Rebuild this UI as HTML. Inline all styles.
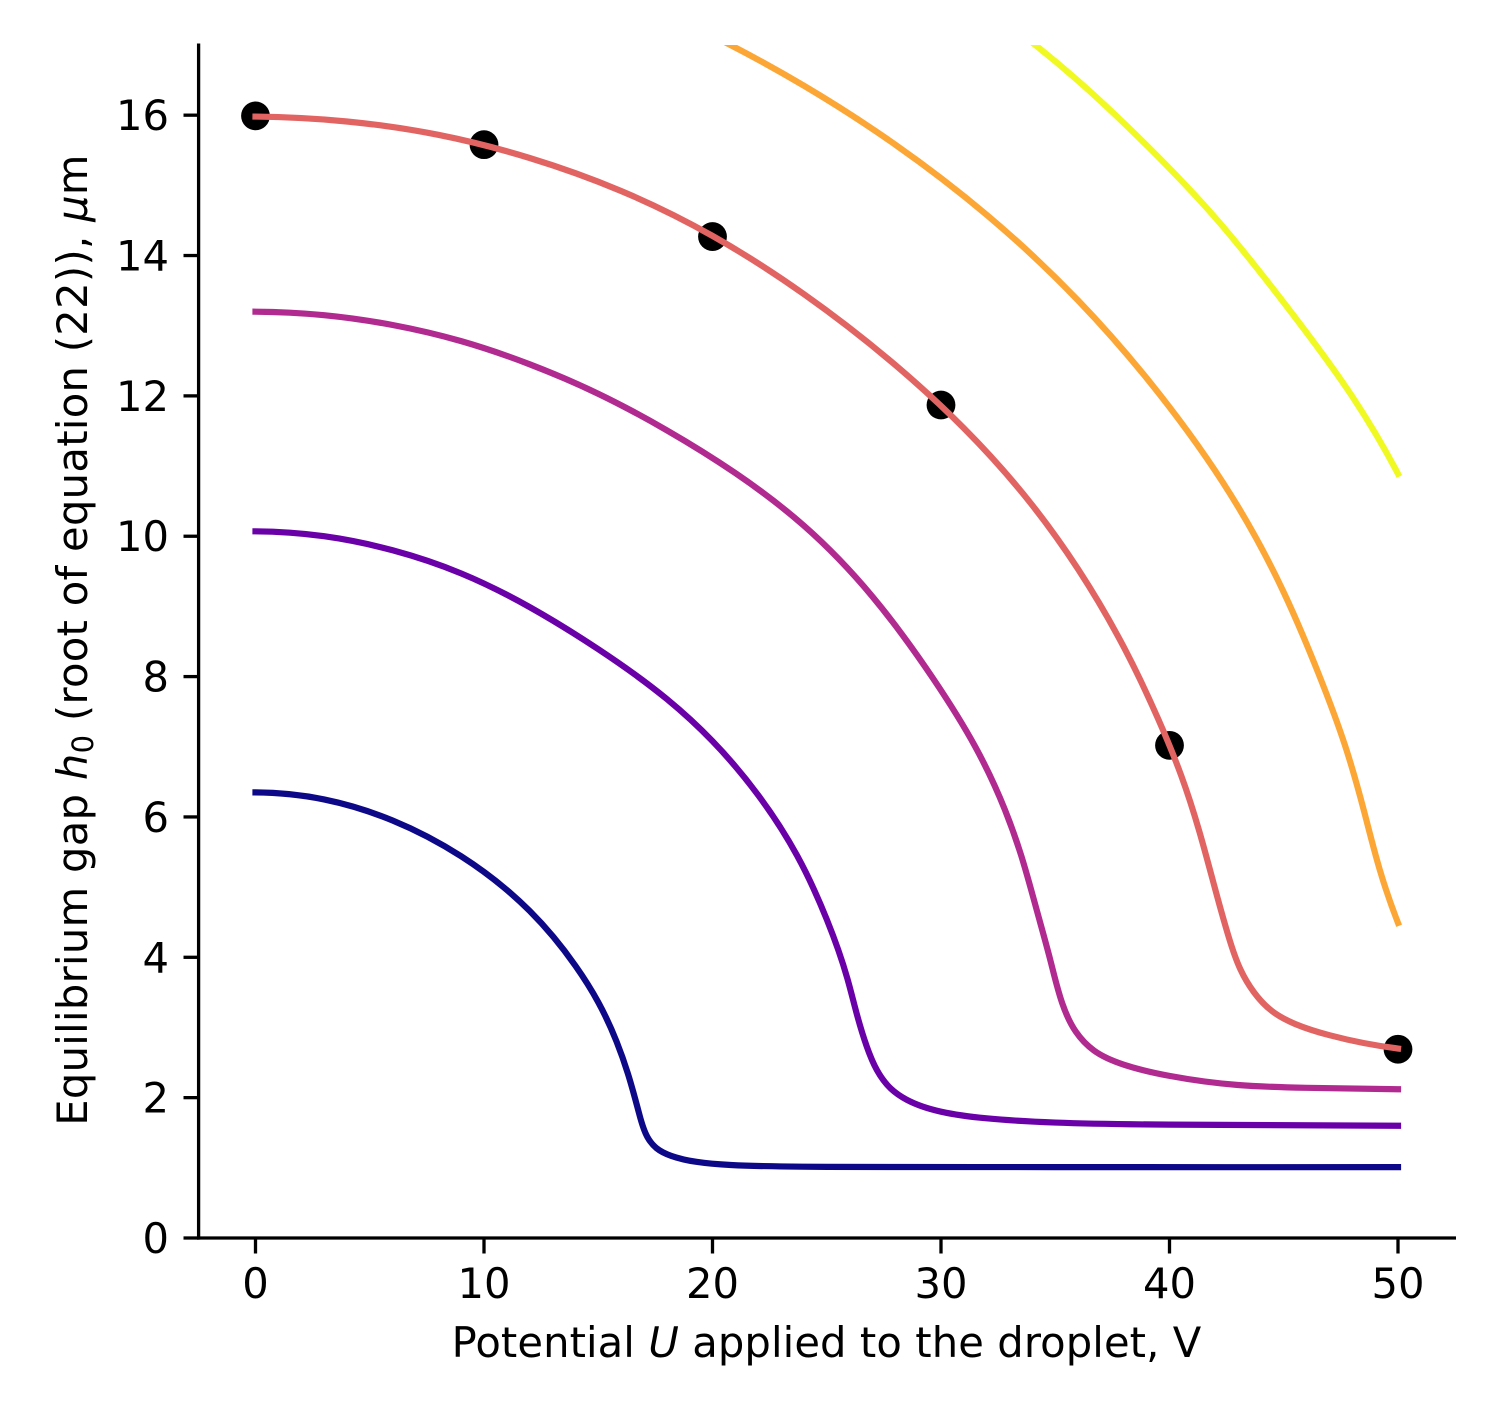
<!DOCTYPE html>
<html lang="en">
<head>
<meta charset="utf-8">
<title>Equilibrium gap vs potential</title>
<style>
html,body{margin:0;padding:0;background:#fff}
svg{display:block}
text{font-family:"DejaVu Sans","Liberation Sans",sans-serif;fill:#000}
</style>
</head>
<body>
<svg id="chart" xmlns="http://www.w3.org/2000/svg" width="1500" height="1425" viewBox="0 0 1500 1425">
  <defs><clipPath id="plot-clip"><rect x="198.5" y="45" width="1258" height="1193"></rect></clipPath></defs>
  <rect x="0" y="0" width="1500" height="1425" fill="#ffffff"></rect>
  <g id="markers" clip-path="url(#plot-clip)"></g>
  <g id="lines" clip-path="url(#plot-clip)"></g>
  <g id="x-ticks"></g>
  <g id="y-ticks"></g>
  <line x1="198.6" y1="43.5" x2="198.6" y2="1239.6" stroke="#000" stroke-width="3.3"></line>
  <line x1="197" y1="1238" x2="1456" y2="1238" stroke="#000" stroke-width="3.3"></line>
  <text x="826.5" y="1357" font-size="41.67" letter-spacing="0.1" text-anchor="middle">Potential <tspan font-style="italic">U</tspan> applied to the droplet, V</text>
  <text transform="translate(87,640) rotate(-90)" font-size="41.67" letter-spacing="0.3" text-anchor="middle">Equilibrium gap <tspan font-style="italic">h</tspan><tspan font-size="29" dy="6">0</tspan><tspan dy="-6"> (root of equation (22)), </tspan><tspan font-style="italic">μ</tspan><tspan>m</tspan></text>
</svg>
<script>
const xTickValues = [0, 10, 20, 30, 40, 50];
const yTickValues = [0, 2, 4, 6, 8, 10, 12, 14, 16];

const markerU = [0, 10, 20, 30, 40, 50];
const markerH = [15.99, 15.58, 14.27, 11.87, 7.02, 2.69];

const blueU = [0, 3, 6, 9, 12, 14, 15, 15.8, 16.3, 16.8, 17.15, 17.55, 18.2, 19.3, 20.8, 23, 25, 28, 35, 50];
const blueH = [6.35, 6.25, 5.95, 5.44, 4.66, 3.88, 3.36, 2.8, 2.34, 1.76, 1.44, 1.28, 1.17, 1.085, 1.04, 1.02, 1.014, 1.012, 1.01, 1.01];

const purpleU = [0, 3, 6, 9, 12, 15, 18, 20, 22, 23.7, 25, 25.9, 26.35, 26.75, 27.2, 27.8, 28.5, 30, 32, 35, 40, 50];
const purpleH = [10.07, 10.0, 9.8, 9.47, 8.99, 8.39, 7.68, 7.08, 6.31, 5.45, 4.54, 3.7, 3.15, 2.73, 2.39, 2.13, 1.97, 1.8, 1.705, 1.645, 1.615, 1.6];

const magentaU = [0, 3, 6, 9, 12, 15, 18, 21, 24, 27, 29.66, 31.5, 32.8, 33.5, 34.2, 34.8, 35.3, 35.9, 36.7, 38, 40, 43, 46, 50];
const magentaH = [13.2, 13.15, 13.01, 12.78, 12.45, 12.03, 11.51, 10.9, 10.15, 9.14, 7.97, 7.0, 6.1, 5.46, 4.66, 3.94, 3.35, 2.94, 2.67, 2.47, 2.31, 2.18, 2.14, 2.12];

const salmonU = [0, 4, 8, 12, 16, 20, 24, 28, 31, 34, 36, 38, 39.5, 40.5, 41.3, 42, 42.6, 43.1, 43.7, 44.5, 45.5, 47, 50];
const salmonH = [15.98, 15.91, 15.72, 15.39, 14.92, 14.28, 13.45, 12.44, 11.54, 10.44, 9.53, 8.42, 7.4, 6.6, 5.8, 4.97, 4.28, 3.83, 3.5, 3.23, 3.05, 2.89, 2.7];

const orangeU = [20, 24, 28, 32, 36, 40, 43, 45, 46.5, 47.7, 48.5, 49.2, 50];
const orangeH = [17.13, 16.42, 15.58, 14.58, 13.36, 11.84, 10.42, 9.2, 8.06, 7.0, 6.1, 5.25, 4.49];

const yellowU = [33.5, 36, 39, 42, 45, 48, 50];
const yellowH = [17.16, 16.49, 15.57, 14.54, 13.33, 11.99, 10.89];

const SVG_NS = 'http://www.w3.org/2000/svg';
function xScale(u) { return 255.5 + 22.85 * u; }
function yScale(h) { return 1238 - (1193 / 17) * h; }

function splineMoments(t, v) {
  const n = v.length;
  const a = new Array(n).fill(0), b = new Array(n).fill(0), c = new Array(n).fill(0), r = new Array(n).fill(0);
  b[0] = 1; c[0] = -1; b[n - 1] = 1; a[n - 1] = -1;
  for (let i = 1; i < n - 1; i++) {
    const h0 = t[i] - t[i - 1], h1 = t[i + 1] - t[i];
    a[i] = h0 / 6;
    b[i] = (h0 + h1) / 3;
    c[i] = h1 / 6;
    r[i] = (v[i + 1] - v[i]) / h1 - (v[i] - v[i - 1]) / h0;
  }
  for (let i = 1; i < n; i++) {
    const w = a[i] / b[i - 1];
    b[i] -= w * c[i - 1];
    r[i] -= w * r[i - 1];
  }
  const m = new Array(n).fill(0);
  m[n - 1] = r[n - 1] / b[n - 1];
  for (let i = n - 2; i >= 0; i--) m[i] = (r[i] - c[i] * m[i + 1]) / b[i];
  return m;
}

function smoothPath(us, hs) {
  const xs = us.map(xScale);
  const ys = hs.map(yScale);
  const t = [0];
  for (let i = 1; i < xs.length; i++) t.push(t[i - 1] + Math.hypot(xs[i] - xs[i - 1], ys[i] - ys[i - 1]));
  const mx = splineMoments(t, xs);
  const my = splineMoments(t, ys);
  let s = 'M' + xs[0].toFixed(2) + ' ' + ys[0].toFixed(2);
  for (let i = 0; i < xs.length - 1; i++) {
    const d = t[i + 1] - t[i];
    const c1x = xs[i] + d * ((xs[i + 1] - xs[i]) / d - d * (2 * mx[i] + mx[i + 1]) / 6) / 3;
    const c1y = ys[i] + d * ((ys[i + 1] - ys[i]) / d - d * (2 * my[i] + my[i + 1]) / 6) / 3;
    const c2x = xs[i + 1] - d * ((xs[i + 1] - xs[i]) / d + d * (mx[i] + 2 * mx[i + 1]) / 6) / 3;
    const c2y = ys[i + 1] - d * ((ys[i + 1] - ys[i]) / d + d * (my[i] + 2 * my[i + 1]) / 6) / 3;
    s += 'C' + c1x.toFixed(2) + ' ' + c1y.toFixed(2) + ' ' + c2x.toFixed(2) + ' ' + c2y.toFixed(2) + ' ' + xs[i + 1].toFixed(2) + ' ' + ys[i + 1].toFixed(2);
  }
  return s;
}

const linesGroup = document.getElementById('lines');
function drawCurve(name, us, hs, color) {
  const path = document.createElementNS(SVG_NS, 'path');
  
  
  path.setAttribute('d', smoothPath(us, hs));
  path.setAttribute('fill', 'none');
  path.setAttribute('stroke', color);
  path.setAttribute('stroke-width', '6.2');
  path.setAttribute('stroke-linecap', 'square');
  path.setAttribute('stroke-linejoin', 'round');
  linesGroup.appendChild(path);
}
drawCurve('curve-blue', blueU, blueH, '#0d0887');
drawCurve('curve-purple', purpleU, purpleH, '#6a00a8');
drawCurve('curve-magenta', magentaU, magentaH, '#b12a90');
drawCurve('curve-salmon', salmonU, salmonH, '#e16462');
drawCurve('curve-orange', orangeU, orangeH, '#fca636');
drawCurve('curve-yellow', yellowU, yellowH, '#f0f921');

const markersGroup = document.getElementById('markers');
markerU.forEach(function (u, i) {
  const c = document.createElementNS(SVG_NS, 'circle');
  
  
  c.setAttribute('cx', xScale(u));
  c.setAttribute('cy', yScale(markerH[i]));
  c.setAttribute('r', '14.4');
  c.setAttribute('fill', '#000');
  markersGroup.appendChild(c);
});

const xTicksGroup = document.getElementById('x-ticks');
xTickValues.forEach(function (v) {
  const tick = document.createElementNS(SVG_NS, 'line');
  
  
  tick.setAttribute('x1', xScale(v));
  tick.setAttribute('x2', xScale(v));
  tick.setAttribute('y1', '1238');
  tick.setAttribute('y2', '1253.5');
  tick.setAttribute('stroke', '#000');
  tick.setAttribute('stroke-width', '3.3');
  xTicksGroup.appendChild(tick);
  const label = document.createElementNS(SVG_NS, 'text');
  
  
  label.setAttribute('x', xScale(v));
  label.setAttribute('y', '1298');
  label.setAttribute('font-size', '41.67');
  label.setAttribute('text-anchor', 'middle');
  label.textContent = String(v);
  xTicksGroup.appendChild(label);
});

const yTicksGroup = document.getElementById('y-ticks');
yTickValues.forEach(function (v) {
  const tick = document.createElementNS(SVG_NS, 'line');
  
  
  tick.setAttribute('x1', '183.5');
  tick.setAttribute('x2', '198.6');
  tick.setAttribute('y1', yScale(v));
  tick.setAttribute('y2', yScale(v));
  tick.setAttribute('stroke', '#000');
  tick.setAttribute('stroke-width', '3.3');
  yTicksGroup.appendChild(tick);
  const label = document.createElementNS(SVG_NS, 'text');
  
  
  label.setAttribute('x', '169');
  label.setAttribute('y', yScale(v) + 15);
  label.setAttribute('font-size', '41.67');
  label.setAttribute('text-anchor', 'end');
  label.textContent = String(v);
  yTicksGroup.appendChild(label);
});
</script>
</body>
</html>
